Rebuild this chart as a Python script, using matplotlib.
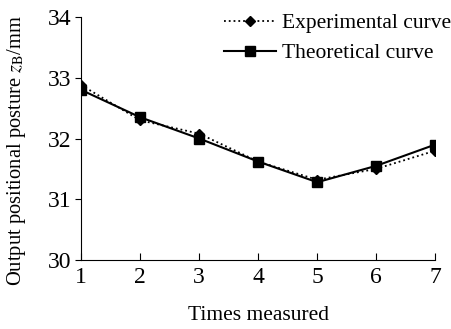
import numpy as np
import matplotlib.pyplot as plt

plt.rcParams['font.family'] = ['Liberation Serif', 'DejaVu Serif']
plt.rcParams['mathtext.fontset'] = 'stix'

times = [1, 2, 3, 4, 5, 6, 7]
experimental = [32.88, 32.30, 32.08, 31.62, 31.32, 31.50, 31.80]
theoretical = [32.80, 32.35, 32.00, 31.62, 31.28, 31.55, 31.90]

fig = plt.figure(figsize=(4.51, 3.29), dpi=100)
ax = fig.add_axes([0.18, 0.21, 0.785, 0.738])

ax.plot(times, experimental, color='black', linestyle=':', linewidth=1.3,
        marker='D', markersize=5.5, label='Experimental curve')
ax.plot(times, theoretical, color='black', linestyle='-', linewidth=1.5,
        marker='s', markersize=7, label='Theoretical curve')

ax.set_xlim(1, 7)
ax.set_ylim(30, 34)
ax.set_xticks(times)
ax.set_yticks([30, 31, 32, 33, 34])
ax.spines['top'].set_visible(False)
ax.spines['right'].set_visible(False)
ax.tick_params(axis='x', direction='in', length=5, labelsize=17, pad=5)
ax.tick_params(axis='y', direction='out', length=4, labelsize=17, pad=3)

ax.set_xlabel('Times measured', fontsize=15.5, labelpad=13)
ax.set_ylabel(r'Output positional posture $z_{\mathrm{B}}$/mm', fontsize=14.8)
ax.yaxis.set_label_coords(-0.15, 0.45)

ax.legend(loc='upper right', bbox_to_anchor=(1.1, 1.095), frameon=False,
          fontsize=15.5, handlelength=2.4, handletextpad=0.3, labelspacing=0.45)

fig.savefig('out.png', dpi=100)
